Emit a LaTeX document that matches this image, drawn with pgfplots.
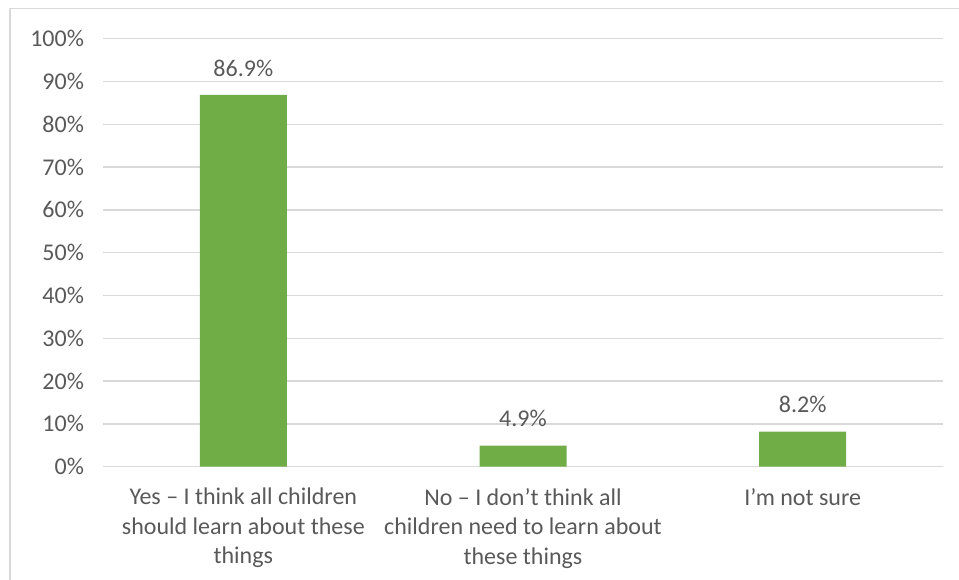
\documentclass[border=0pt]{standalone}
\usepackage{pgfplots}
\pgfplotsset{compat=1.18}
\usepackage{fontspec}
\setmainfont{Carlito}
\definecolor{bargreen}{HTML}{70AD47}
\definecolor{txtgray}{HTML}{595959}
\definecolor{gridgray}{HTML}{D9D9D9}
\begin{document}
\begin{tikzpicture}
\path[use as bounding box] (-103.5pt,-113.3pt) rectangle (855.5pt,466.7pt);
\draw[gridgray, line width=1.5pt] (-93.5pt,-113.3pt) -- (-93.5pt,458pt) -- (855.5pt,458pt);
\begin{axis}[
  at={(0,0)}, anchor=south west,
  scale only axis, width=839pt, height=428pt,
  xmin=-0.5, xmax=2.5, ymin=0, ymax=100,
  xtick={0,1,2},
  xticklabels={{Yes -- I think all children\\should learn about these\\things},
               {No -- I don’t think all\\children need to learn about\\these things},
               {I’m not sure}},
  ytick={0,10,...,100},
  yticklabel={\pgfmathprintnumber{\tick}\%},
  /pgf/number format/assume math mode=true,
  major tick length=0pt,
  axis line style={draw=none},
  ymajorgrids, major grid style={gridgray, line width=1.3pt},
  ticklabel style={font=\fontsize{24}{29.5}\selectfont, text=txtgray},
  yticklabel style={xshift=-16pt},
  xticklabel style={align=center, anchor=north, yshift=-18pt},
  ybar, bar width=87pt,
  nodes near coords={\pgfmathprintnumber[fixed,precision=1,fixed zerofill]{\pgfplotspointmeta}\%},
  nodes near coords style={font=\fontsize{24}{28}\selectfont, text=txtgray, anchor=south, yshift=15pt},
]
\addplot[fill=bargreen, draw=none] coordinates {(0,86.9) (1,4.9) (2,8.2)};
\end{axis}
\end{tikzpicture}
\end{document}
